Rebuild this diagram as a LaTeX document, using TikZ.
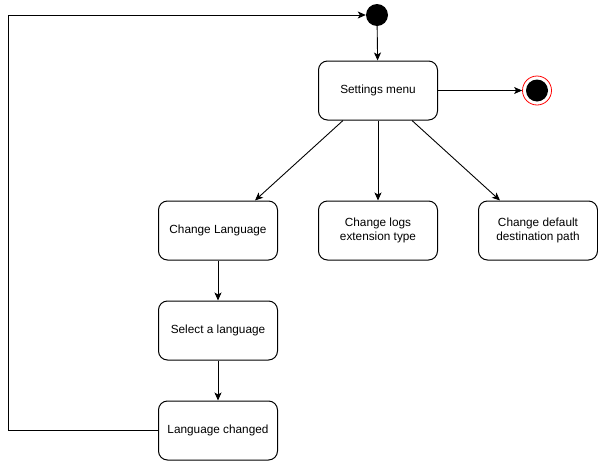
\documentclass[tikz,border=0pt]{standalone}
\usepackage{fontspec}
\setmainfont{Liberation Sans}
\usetikzlibrary{arrows.meta}
\tikzset{>={Stealth[length=8pt,width=7pt,inset=2pt]}}
\tikzset{
  state/.style={draw,line width=1pt,rounded corners=9pt,minimum width=119pt,minimum height=59pt,
    align=center,inner sep=2pt,font=\fontsize{11.8pt}{14.5pt}\selectfont},
  flow/.style={->,line width=0.9pt}
}

\begin{document}
\begin{tikzpicture}[x=1pt,y=-1pt]
  \useasboundingbox (0,0) rectangle (598,461);
  % initial and final states
  \node[circle,fill=black,minimum size=22pt,inner sep=0pt] (start) at (377,15) {};
  \node[circle,draw=red,line width=0.8pt,minimum size=29pt,inner sep=0pt] (stop) at (537,90.5) {};
  \fill[black] (stop.center) circle (11);
  % states
  \node[state] (menu) at (378,90.5) {Settings menu};
  \node[state] (lang) at (218,230.5) {Change Language};
  \node[state] (logs) at (378,230.5) {Change logs\\extension type};
  \node[state] (dest) at (538,230.5) {Change default\\destination path};
  \node[state] (select) at (218,330.5) {Select a language};
  \node[state] (changed) at (218,430.5) {Language changed};
  % transitions
  \draw[flow] (start) -- (menu);
  \draw[flow] (menu.east) -- (stop.west);
  \draw[flow] ([xshift=-35pt]menu.south) -- ([xshift=37pt]lang.north);
  \draw[flow] (menu) -- (logs);
  \draw[flow] ([xshift=34pt]menu.south) -- ([xshift=-38pt]dest.north);
  \draw[flow] (lang) -- (select);
  \draw[flow] (select) -- (changed);
  % back to the start
  \draw[flow] (changed.west) -- ++(-150,0) |- (start.west);
\end{tikzpicture}
\end{document}
